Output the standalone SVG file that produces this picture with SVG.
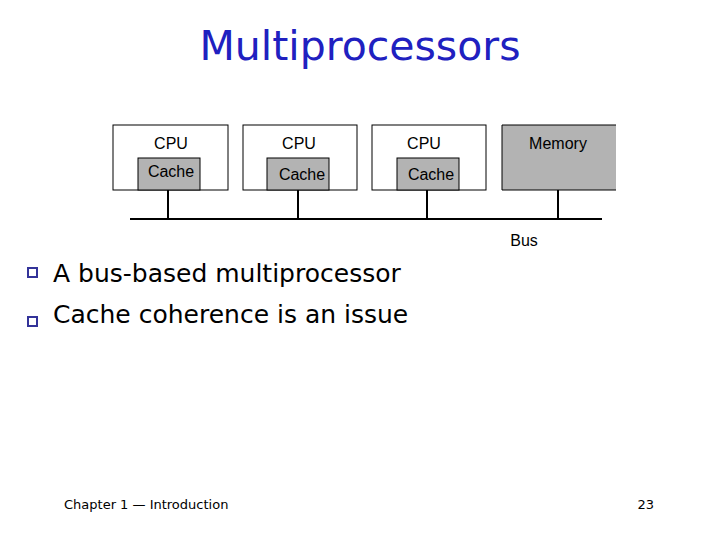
<svg xmlns="http://www.w3.org/2000/svg" width="720" height="540" viewBox="0 0 720 540">
<style>
.box{fill:#fff;stroke:#000;stroke-width:1}
.gray{fill:#b3b3b3;stroke:#000;stroke-width:1}
.lbl{font-family:"Liberation Sans",Arial,sans-serif;font-size:16px;fill:#000;text-anchor:middle}
.bul{font-family:"DejaVu Sans",sans-serif;font-size:25px;fill:#000}
.wire{stroke:#000;stroke-width:2;fill:none}
.sq{fill:#fff;stroke:#333399;stroke-width:2}
</style>
<rect width="720" height="540" fill="#fff"/>
<text x="360" y="60" font-family="DejaVu Sans,sans-serif" font-size="41" fill="#2020c0" text-anchor="middle">Multiprocessors</text>
<g id="cpu1"><rect class="box" x="113" y="125" width="115" height="65"/><text class="lbl" x="171" y="149">CPU</text></g>
<g id="cache1"><rect class="gray" x="138" y="158" width="62" height="32"/><text class="lbl" x="171" y="177">Cache</text></g>
<g id="cpu2"><rect class="box" x="243" y="125" width="114" height="65"/><text class="lbl" x="299" y="149">CPU</text></g>
<g id="cache2"><rect class="gray" x="267" y="158" width="62" height="32"/><text class="lbl" x="302" y="180">Cache</text></g>
<g id="cpu3"><rect class="box" x="372" y="125" width="114" height="65"/><text class="lbl" x="424" y="149">CPU</text></g>
<g id="cache3"><rect class="gray" x="397" y="158" width="62" height="32"/><text class="lbl" x="431" y="180">Cache</text></g>
<g id="memory"><rect x="502" y="125" width="114" height="65" fill="#b3b3b3"/><path d="M502,190V125H616M502,190H616" fill="none" stroke="#000"/><text class="lbl" x="558" y="149">Memory</text></g>
<g id="connectors">
<line class="wire" x1="130" y1="219" x2="602" y2="219"/>
<line class="wire" x1="168" y1="190" x2="168" y2="219"/>
<line class="wire" x1="298" y1="190" x2="298" y2="219"/>
<line class="wire" x1="427" y1="190" x2="427" y2="219"/>
<line class="wire" x1="558" y1="190" x2="558" y2="219"/>
</g>
<text class="lbl" x="524" y="246">Bus</text>
<rect class="sq" x="28" y="268" width="9" height="9"/>
<text class="bul" x="53" y="282">A bus-based multiprocessor</text>
<rect class="sq" x="28" y="317" width="9" height="9"/>
<text class="bul" x="53" y="323">Cache coherence is an issue</text>
<text x="64" y="509" font-family="DejaVu Sans,sans-serif" font-size="13" fill="#000">Chapter 1 — Introduction</text>
<text x="654" y="509" font-family="DejaVu Sans,sans-serif" font-size="13" fill="#000" text-anchor="end">23</text>
</svg>
